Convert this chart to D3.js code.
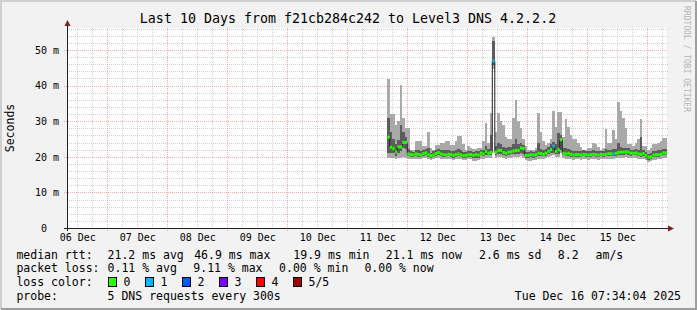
<!DOCTYPE html>
<html>
<head>
<meta charset="utf-8">
<script src="https://cdn.jsdelivr.net/npm/d3@7"></script>
<style>
  html, body { margin: 0; padding: 0; background: #f2f2f2; }
  svg { display: block; font-family: "DejaVu Sans Mono", monospace; }
  text { white-space: pre; }
</style>
</head>
<body>
<svg class="chart" width="697" height="310"></svg>
<script>
// hourly smokeping columns, first one starts Dec 11 16:00
var dataStart = Date.UTC(2025, 11, 11, 16, 0);

// median rtt (ms)
var median = [25.5,22.7,22.3,21.4,22.8,22.8,24.0,24.0,20.8,20.6,
  20.5,20.8,20.6,20.5,20.9,21.1,20.6,20.3,20.5,20.9,
  21.2,20.8,20.6,20.5,20.7,20.6,20.4,20.6,20.8,20.5,
  20.3,20.4,20.6,20.6,20.4,20.6,20.5,21.0,20.8,21.5,
  21.0,21.2,46.9,21.3,21.8,21.8,21.2,21.0,21.3,21.4,
  21.6,21.8,21.8,22.5,22.3,20.4,20.4,20.6,20.5,20.6,
  21.0,20.9,20.7,21.0,21.5,22.0,23.0,21.5,22.0,24.8,
  21.0,20.8,21.0,20.7,20.5,20.6,20.6,20.5,20.7,20.6,
  20.5,20.6,20.7,20.6,20.5,20.7,20.6,20.7,20.9,20.8,
  20.8,21.0,21.2,21.3,21.3,21.4,21.3,21.0,21.0,21.1,
  20.8,20.7,20.9,20.4,19.9,20.0,20.5,20.6,20.6,20.7,
  21.1,21.1];

// smoke: lowest ping, 2nd ping, 4th ping, highest ping (ms)
var ping1 = [19.8,19.6,19.6,19.5,19.6,19.8,19.9,19.7,19.5,19.4,
  19.3,19.5,19.4,19.3,19.6,19.7,19.4,19.2,19.3,19.6,
  19.8,19.5,19.4,19.3,19.4,19.4,19.2,19.4,19.5,19.3,
  19.1,19.2,19.3,19.4,18.8,18.7,19.0,19.5,19.4,19.8,
  19.6,19.7,44.6,19.8,19.9,20.0,19.6,19.5,19.7,19.7,
  19.9,20.0,19.9,20.2,19.8,19.0,18.9,18.9,19.0,19.2,
  19.5,19.5,19.3,19.6,19.9,20.1,20.4,19.9,20.0,21.0,
  19.6,19.4,19.5,19.3,19.2,19.3,19.3,19.2,19.4,19.3,
  19.2,19.3,19.4,19.3,19.2,19.3,19.3,19.4,19.5,19.4,
  19.4,19.6,19.7,19.8,19.8,19.9,19.8,19.6,19.6,19.7,
  19.5,19.3,19.5,19.0,18.6,18.7,19.1,19.2,19.3,19.3,
  19.7,19.7];
var ping2 = [21.0,21.2,21.0,20.3,21.2,21.5,22.5,22.2,20.2,20.0,
  19.9,20.2,20.0,19.9,20.3,20.5,20.0,19.8,19.9,20.3,
  20.6,20.2,20.0,19.9,20.1,20.0,19.8,20.0,20.2,19.9,
  19.7,19.8,20.0,20.0,19.6,19.8,19.8,20.4,20.2,20.6,
  20.4,20.5,45.8,20.6,20.8,20.9,20.5,20.3,20.6,20.7,
  20.8,20.9,20.9,21.2,20.9,19.8,19.7,19.9,19.8,20.0,
  20.3,20.2,20.1,20.3,20.7,21.0,21.2,20.7,20.8,22.0,
  20.4,20.1,20.3,20.0,19.9,20.0,20.0,19.9,20.1,20.0,
  19.9,20.0,20.1,20.0,19.9,20.1,20.0,20.1,20.3,20.2,
  20.2,20.3,20.5,20.6,20.6,20.7,20.6,20.3,20.4,20.5,
  20.2,20.0,20.2,19.7,19.2,19.4,19.9,20.0,20.0,20.1,
  20.5,20.5];
var ping4 = [31.0,27.0,25.0,23.5,24.8,29.0,27.0,25.5,22.2,21.6,
  21.4,22.0,21.8,21.6,22.0,22.3,22.5,21.2,21.5,22.0,
  22.3,22.0,21.8,21.8,22.0,21.7,21.5,21.8,22.2,21.8,
  21.3,21.3,21.7,21.6,21.3,21.5,21.5,22.0,22.0,23.0,
  22.3,26.0,52.5,23.0,24.0,23.5,22.8,22.4,22.7,22.8,
  23.5,25.0,23.5,24.0,23.2,21.4,21.3,21.5,21.4,21.6,
  24.0,22.3,21.9,22.3,22.8,23.6,24.2,23.5,26.8,26.0,
  22.5,22.5,22.3,21.8,21.6,21.7,21.6,21.5,21.8,21.6,
  21.5,21.6,21.8,21.7,21.5,21.7,21.6,22.3,22.0,21.9,
  22.2,22.1,24.0,22.8,22.6,22.5,22.4,22.0,22.0,22.2,
  21.9,25.6,22.0,21.4,20.9,21.0,21.6,21.7,21.8,21.9,
  22.3,22.3];
var ping5 = [41.8,32.0,32.0,29.0,30.0,40.2,30.8,28.0,28.0,22.0,
  22.0,24.5,24.5,24.5,23.0,23.0,27.0,22.5,22.0,23.3,
  23.3,24.0,24.0,24.4,24.4,23.2,23.2,24.5,25.8,25.8,
  23.5,22.0,23.0,22.5,22.2,22.2,22.5,22.5,24.3,29.6,
  24.0,32.4,53.6,27.0,32.2,30.0,29.0,25.5,25.0,25.0,
  30.8,36.0,30.0,28.0,25.0,23.0,22.0,22.0,22.0,22.6,
  32.2,27.0,24.5,23.3,24.0,25.0,33.0,28.5,32.7,32.7,
  25.5,30.5,28.5,26.0,25.0,25.0,24.0,22.8,22.0,22.0,
  22.5,22.5,24.0,23.5,22.8,22.0,22.5,27.8,24.0,24.0,
  27.5,25.0,35.5,33.0,31.0,28.0,23.5,23.5,23.0,24.0,
  25.0,30.5,23.0,23.0,22.0,22.5,23.5,23.5,24.0,24.4,
  25.2,25.2];

// lost pings per column (of 5)
var loss = [0,0,0,0,0,0,0,0,0,0, 0,0,0,0,0,0,0,0,0,0,
  0,0,0,0,0,0,0,0,0,0, 0,0,0,0,0,0,0,0,0,0,
  0,0,1,0,0,0,0,0,0,0, 0,0,0,0,0,0,0,0,0,0,
  0,0,0,0,0,0,1,0,0,0, 0,0,0,0,0,0,0,0,0,0,
  0,0,0,0,0,0,0,0,0,0, 1,0,0,0,0,0,0,0,0,0,
  0,0,0,0,0,0,0,0,0,0, 0,0];

var lossLabels = ['0', '1', '2', '3', '4', '5/5'];
var lossColors = ['#26ff00', '#00b8ff', '#0059ff', '#7e00ff', '#ff0000', '#a00000'];

var yTicks = [0, 10, 20, 30, 40, 50];
var dayLabels = ['06 Dec', '07 Dec', '08 Dec', '09 Dec', '10 Dec', '11 Dec', '12 Dec', '13 Dec', '14 Dec', '15 Dec'];

var title = 'Last 10 Days from f21cb284c242 to Level3 DNS 4.2.2.2';
var rttRow = ['median rtt:', '21.2 ms avg', '46.9 ms max', '19.9 ms min', '21.1 ms now', '2.6 ms sd', '8.2', 'am/s'];
var lossRow = ['packet loss:', '0.11 % avg', '9.11 % max', '0.00 % min', '0.00 % now'];
var probeRow = ['probe:', '5 DNS requests every 300s'];
var stamp = 'Tue Dec 16 07:34:04 2025';

var chart = d3.select('.chart');
var W = 697, H = 310;
var plotL = 67, plotR = 667, plotT = 28, plotB = 228;

var t0 = new Date(Date.UTC(2025, 11, 6, 7, 53));
var t1 = d3.utcDay.offset(t0, 10);
var x = d3.scaleUtc().domain([t0, t1]).range([plotL, plotR]);
var y = d3.scaleLinear().domain([0, 56.18]).range([plotB, plotT]);

var cols = median.map((m, i) => ({
  t: d3.utcHour.offset(new Date(dataStart), i),
  t2: d3.utcHour.offset(new Date(dataStart), i + 1),
  med: m, p1: ping1[i], p2: ping2[i], p4: ping4[i], p5: ping5[i], loss: loss[i]
}));

// background + 3d border
chart.append('rect').attr('width', W).attr('height', H).attr('fill', '#f2f2f2');
chart.append('rect').attr('x', plotL).attr('y', plotT).attr('width', plotR - plotL).attr('height', plotB - plotT).attr('fill', '#ffffff');
chart.append('path').attr('d', 'M1,' + (H - 1) + 'V1H' + (W - 1)).attr('stroke', '#cfcfcf').attr('stroke-width', 2).attr('fill', 'none');
chart.append('path').attr('d', 'M1,' + (H - 1) + 'H' + (W - 1) + 'V1').attr('stroke', '#9e9e9e').attr('stroke-width', 2).attr('fill', 'none');

// grid
var grid = chart.append('g').attr('shape-rendering', 'crispEdges').attr('stroke-dasharray', '1,1');
var minorY = d3.range(2, 57, 2).filter(v => v % 10 != 0);
grid.selectAll('.hmin').data(minorY).enter().append('line')
  .attr('x1', plotL).attr('x2', plotR + 1).attr('y1', d => Math.round(y(d)) + 0.5).attr('y2', d => Math.round(y(d)) + 0.5)
  .attr('stroke', 'rgba(143,143,143,0.4)');
var minorX = d3.utcHour.every(6).range(t0, t1).filter(d => d.getUTCHours() != 0);
grid.selectAll('.vmin').data(minorX).enter().append('line')
  .attr('x1', d => Math.round(x(d)) + 0.5).attr('x2', d => Math.round(x(d)) + 0.5).attr('y1', plotT).attr('y2', plotB + 2)
  .attr('stroke', 'rgba(143,143,143,0.4)');
grid.selectAll('.hmaj').data(yTicks.slice(1)).enter().append('line')
  .attr('x1', plotL - 3).attr('x2', plotR + 1).attr('y1', d => Math.round(y(d)) + 0.5).attr('y2', d => Math.round(y(d)) + 0.5)
  .attr('stroke', 'rgba(222,79,79,0.45)');
var majorX = d3.utcDay.range(t0, t1);
grid.selectAll('.vmaj').data(majorX).enter().append('line')
  .attr('x1', d => Math.round(x(d)) + 0.5).attr('x2', d => Math.round(x(d)) + 0.5).attr('y1', plotT).attr('y2', plotB + 3)
  .attr('stroke', 'rgba(222,79,79,0.45)');

// smoke
var plot = chart.append('g').attr('shape-rendering', 'crispEdges');
plot.selectAll('.s1').data(cols).enter().append('rect')
  .attr('x', d => x(d.t)).attr('width', d => Math.min(x(d.t2), plotR) - x(d.t))
  .attr('y', d => y(d.p5)).attr('height', d => y(d.p1) - y(d.p5))
  .attr('fill', '#a9a9a9');
plot.selectAll('.s2').data(cols).enter().append('rect')
  .attr('x', d => x(d.t)).attr('width', d => Math.min(x(d.t2), plotR) - x(d.t))
  .attr('y', d => y(d.p4)).attr('height', d => y(d.p2) - y(d.p4))
  .attr('fill', '#5c5c5c');

// median step line
var stepPts = cols.map(d => [x(d.t), y(d.med)]);
stepPts.push([plotR, y(cols[cols.length - 1].med)]);
chart.append('path')
  .attr('d', d3.line().curve(d3.curveStepAfter)(stepPts))
  .attr('fill', 'none').attr('stroke', '#202020').attr('stroke-width', 1);

// median coloured by loss
chart.append('g').selectAll('.med').data(cols).enter().append('rect')
  .attr('x', d => x(d.t)).attr('width', d => Math.min(x(d.t2), plotR) - x(d.t))
  .attr('y', d => y(d.med) - 1.5).attr('height', 3)
  .attr('fill', d => lossColors[d.loss]);

// axes
var noons = majorX.map(d => d3.utcHour.offset(d, -12));
noons.push(d3.utcHour.offset(majorX[majorX.length - 1], 12));
var xAxis = d3.axisBottom(x)
  .tickValues(noons)
  .tickFormat((d, i) => dayLabels[i])
  .tickSize(0).tickPadding(6);
var gx = chart.append('g').attr('transform', 'translate(0,' + plotB + ')').call(xAxis);
gx.select('.domain').remove();
gx.selectAll('text').attr('font-family', 'DejaVu Sans Mono').attr('font-size', 10).attr('fill', '#000');

var yAxis = d3.axisLeft(y).tickValues(yTicks)
  .tickFormat(d => d == 0 ? '0\u00a0\u00a0' : d + ' m')
  .tickSize(0).tickPadding(8);
var gy = chart.append('g').attr('transform', 'translate(' + plotL + ',0)').call(yAxis);
gy.select('.domain').remove();
gy.selectAll('text').attr('font-family', 'DejaVu Sans Mono').attr('font-size', 10).attr('fill', '#000');

chart.append('line').attr('x1', plotL - 3).attr('x2', plotR + 3).attr('y1', plotB + 0.5).attr('y2', plotB + 0.5)
  .attr('stroke', '#1f1f1f').attr('shape-rendering', 'crispEdges');
chart.append('line').attr('x1', plotL + 0.5).attr('x2', plotL + 0.5).attr('y1', plotB + 3).attr('y2', plotT - 3)
  .attr('stroke', '#1f1f1f').attr('shape-rendering', 'crispEdges');
chart.append('path').attr('d', 'M' + (plotR + 1) + ',' + (plotB - 2.5) + 'L' + (plotR + 7) + ',' + (plotB + 0.5) + 'L' + (plotR + 1) + ',' + (plotB + 3.5) + 'Z')
  .attr('fill', '#801f1f');
chart.append('path').attr('d', 'M' + (plotL - 2.5) + ',' + (plotT - 2) + 'L' + (plotL + 0.5) + ',' + (plotT - 8) + 'L' + (plotL + 3.5) + ',' + (plotT - 2) + 'Z')
  .attr('fill', '#801f1f');

// texts
chart.append('text').attr('x', 348).attr('y', 23).attr('text-anchor', 'middle')
  .attr('font-size', 13.3).text(title);
chart.append('text').attr('transform', 'translate(14,128) rotate(-90)').attr('text-anchor', 'middle')
  .attr('font-size', 11.5).text('Seconds');
chart.append('text').attr('transform', 'translate(684,59) rotate(90)').attr('text-anchor', 'middle')
  .attr('font-size', 8).attr('fill', '#b4b4b4').text('RRDTOOL / TOBI OETIKER');

var legend = chart.append('g').attr('font-size', 11.5).attr('fill', '#000');
var rttX = [16.4, 107.6, 194.2, 293.3, 385.8, 479, 557.8, 595.6];
legend.selectAll('.r1').data(rttRow).enter().append('text')
  .attr('x', (d, i) => rttX[i]).attr('y', 258.5).text(d => d);
var lossX = [16.4, 107.6, 193.3, 279.1, 364.4];
legend.selectAll('.r2').data(lossRow).enter().append('text')
  .attr('x', (d, i) => lossX[i]).attr('y', 272).text(d => d);
legend.append('text').attr('x', 16.4).attr('y', 285.5).text('loss color:');
var boxX = [108.5, 145.5, 182.5, 219.5, 256.5, 293.5];
var lc = legend.selectAll('.lc').data(lossLabels).enter().append('g');
lc.append('rect').attr('x', (d, i) => boxX[i]).attr('y', 277.5).attr('width', 8).attr('height', 9)
  .attr('fill', (d, i) => lossColors[i]).attr('stroke', '#000').attr('stroke-width', 1);
lc.append('text').attr('x', (d, i) => boxX[i] + 15).attr('y', 285.5).text(d => d);
legend.selectAll('.r4').data(probeRow).enter().append('text')
  .attr('x', (d, i) => [16.4, 107.6][i]).attr('y', 299.5).text(d => d);
legend.append('text').attr('x', 681).attr('y', 299.5).attr('text-anchor', 'end').text(stamp);
</script>
</body>
</html>
